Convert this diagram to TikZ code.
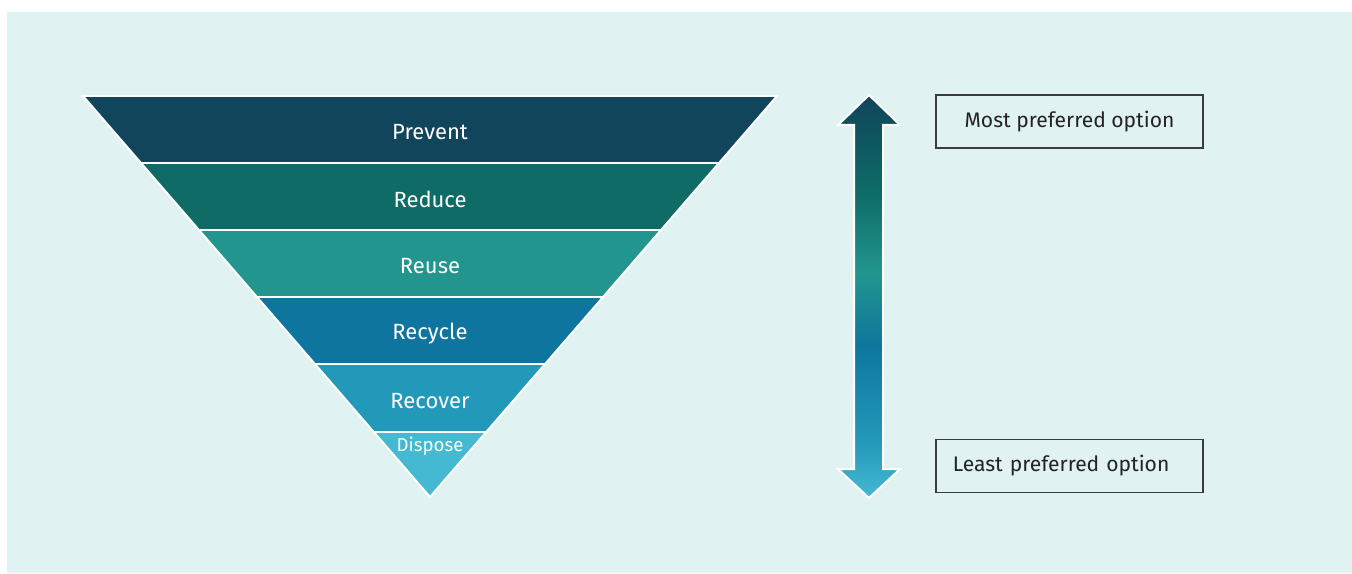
\documentclass[tikz,border=0pt]{standalone}
\usepackage{fontspec}
\setmainfont{Fira Sans}
\definecolor{bgteal}{RGB}{224,242,242}
\definecolor{prevent}{RGB}{16,69,91}
\definecolor{reduce}{RGB}{14,107,102}
\definecolor{reuse}{RGB}{34,150,142}
\definecolor{recycle}{RGB}{14,118,158}
\definecolor{recover}{RGB}{35,153,185}
\definecolor{dispose}{RGB}{69,185,210}
\definecolor{boxline}{RGB}{60,60,60}
\definecolor{boxtext}{RGB}{35,35,35}
\pgfdeclareverticalshading{preference}{100bp}{color(0bp)=(dispose); color(25bp)=(dispose);
  color(32bp)=(recover); color(44bp)=(recycle); color(53bp)=(reuse);
  color(63bp)=(reduce); color(75bp)=(prevent); color(100bp)=(prevent)}
\begin{document}
\begin{tikzpicture}[x=0.75pt,y=-0.75pt,
    bandlabel/.style={text=white,font=\fontsize{16.5}{18}\selectfont},
    optionbox/.style={draw=boxline,line width=1.1pt,minimum width=200pt,minimum height=40pt,
      text=boxtext,font=\fontsize{15.8}{18}\selectfont}]
  \useasboundingbox (0,0) rectangle (1352,574);
  \fill[bgteal] (7,12) rectangle (1352,573);
  % the hierarchy
  \coordinate (tl) at (83,96);
  \coordinate (tr) at (777,96);
  \coordinate (apex) at (430,497);
  \begin{scope}
    \clip (tl) -- (tr) -- (apex) -- cycle;
    \foreach \ytop/\ybot/\col in {96/163/prevent,163/230/reduce,230/297/reuse,
        297/364/recycle,364/432/recover,432/498/dispose}
      \fill[\col] (0,\ytop) rectangle (1352,\ybot);
    \foreach \y in {163,230,297,364,432}
      \draw[white,line width=1.8pt] (0,\y) -- (1352,\y);
  \end{scope}
  \draw[white,line width=1.5pt,line join=miter] (tl) -- (tr) -- (apex) -- cycle;
  \node[bandlabel] (prevent) at (430,132.5) {Prevent};
  \node[bandlabel] (reduce) at (430,199.5) {Reduce};
  \node[bandlabel] (reuse) at (430,266.5) {Reuse};
  \node[bandlabel] (recycle) at (430,334) {Recycle};
  \node[bandlabel] (recover) at (430,401.5) {Recover};
  \node[bandlabel,font=\fontsize{14}{16}\selectfont] (dispose) at (430,446.5) {Dispose};
  % the arrow
  \shadedraw[shading=preference,draw=white,line width=1.5pt]
    (869,95) -- (900,125) -- (883,125) -- (883,469) -- (900,469) -- (869,498)
    -- (838,469) -- (854,469) -- (854,125) -- (838,125) -- cycle;
  % the options
  \node[optionbox] (most) at (1069.5,121.5) {Most preferred option};
  \node[optionbox,text width=175pt,align=left,inner xsep=12.5pt] (least) at (1069.5,466)
    {Least preferred option};
\end{tikzpicture}
\end{document}
